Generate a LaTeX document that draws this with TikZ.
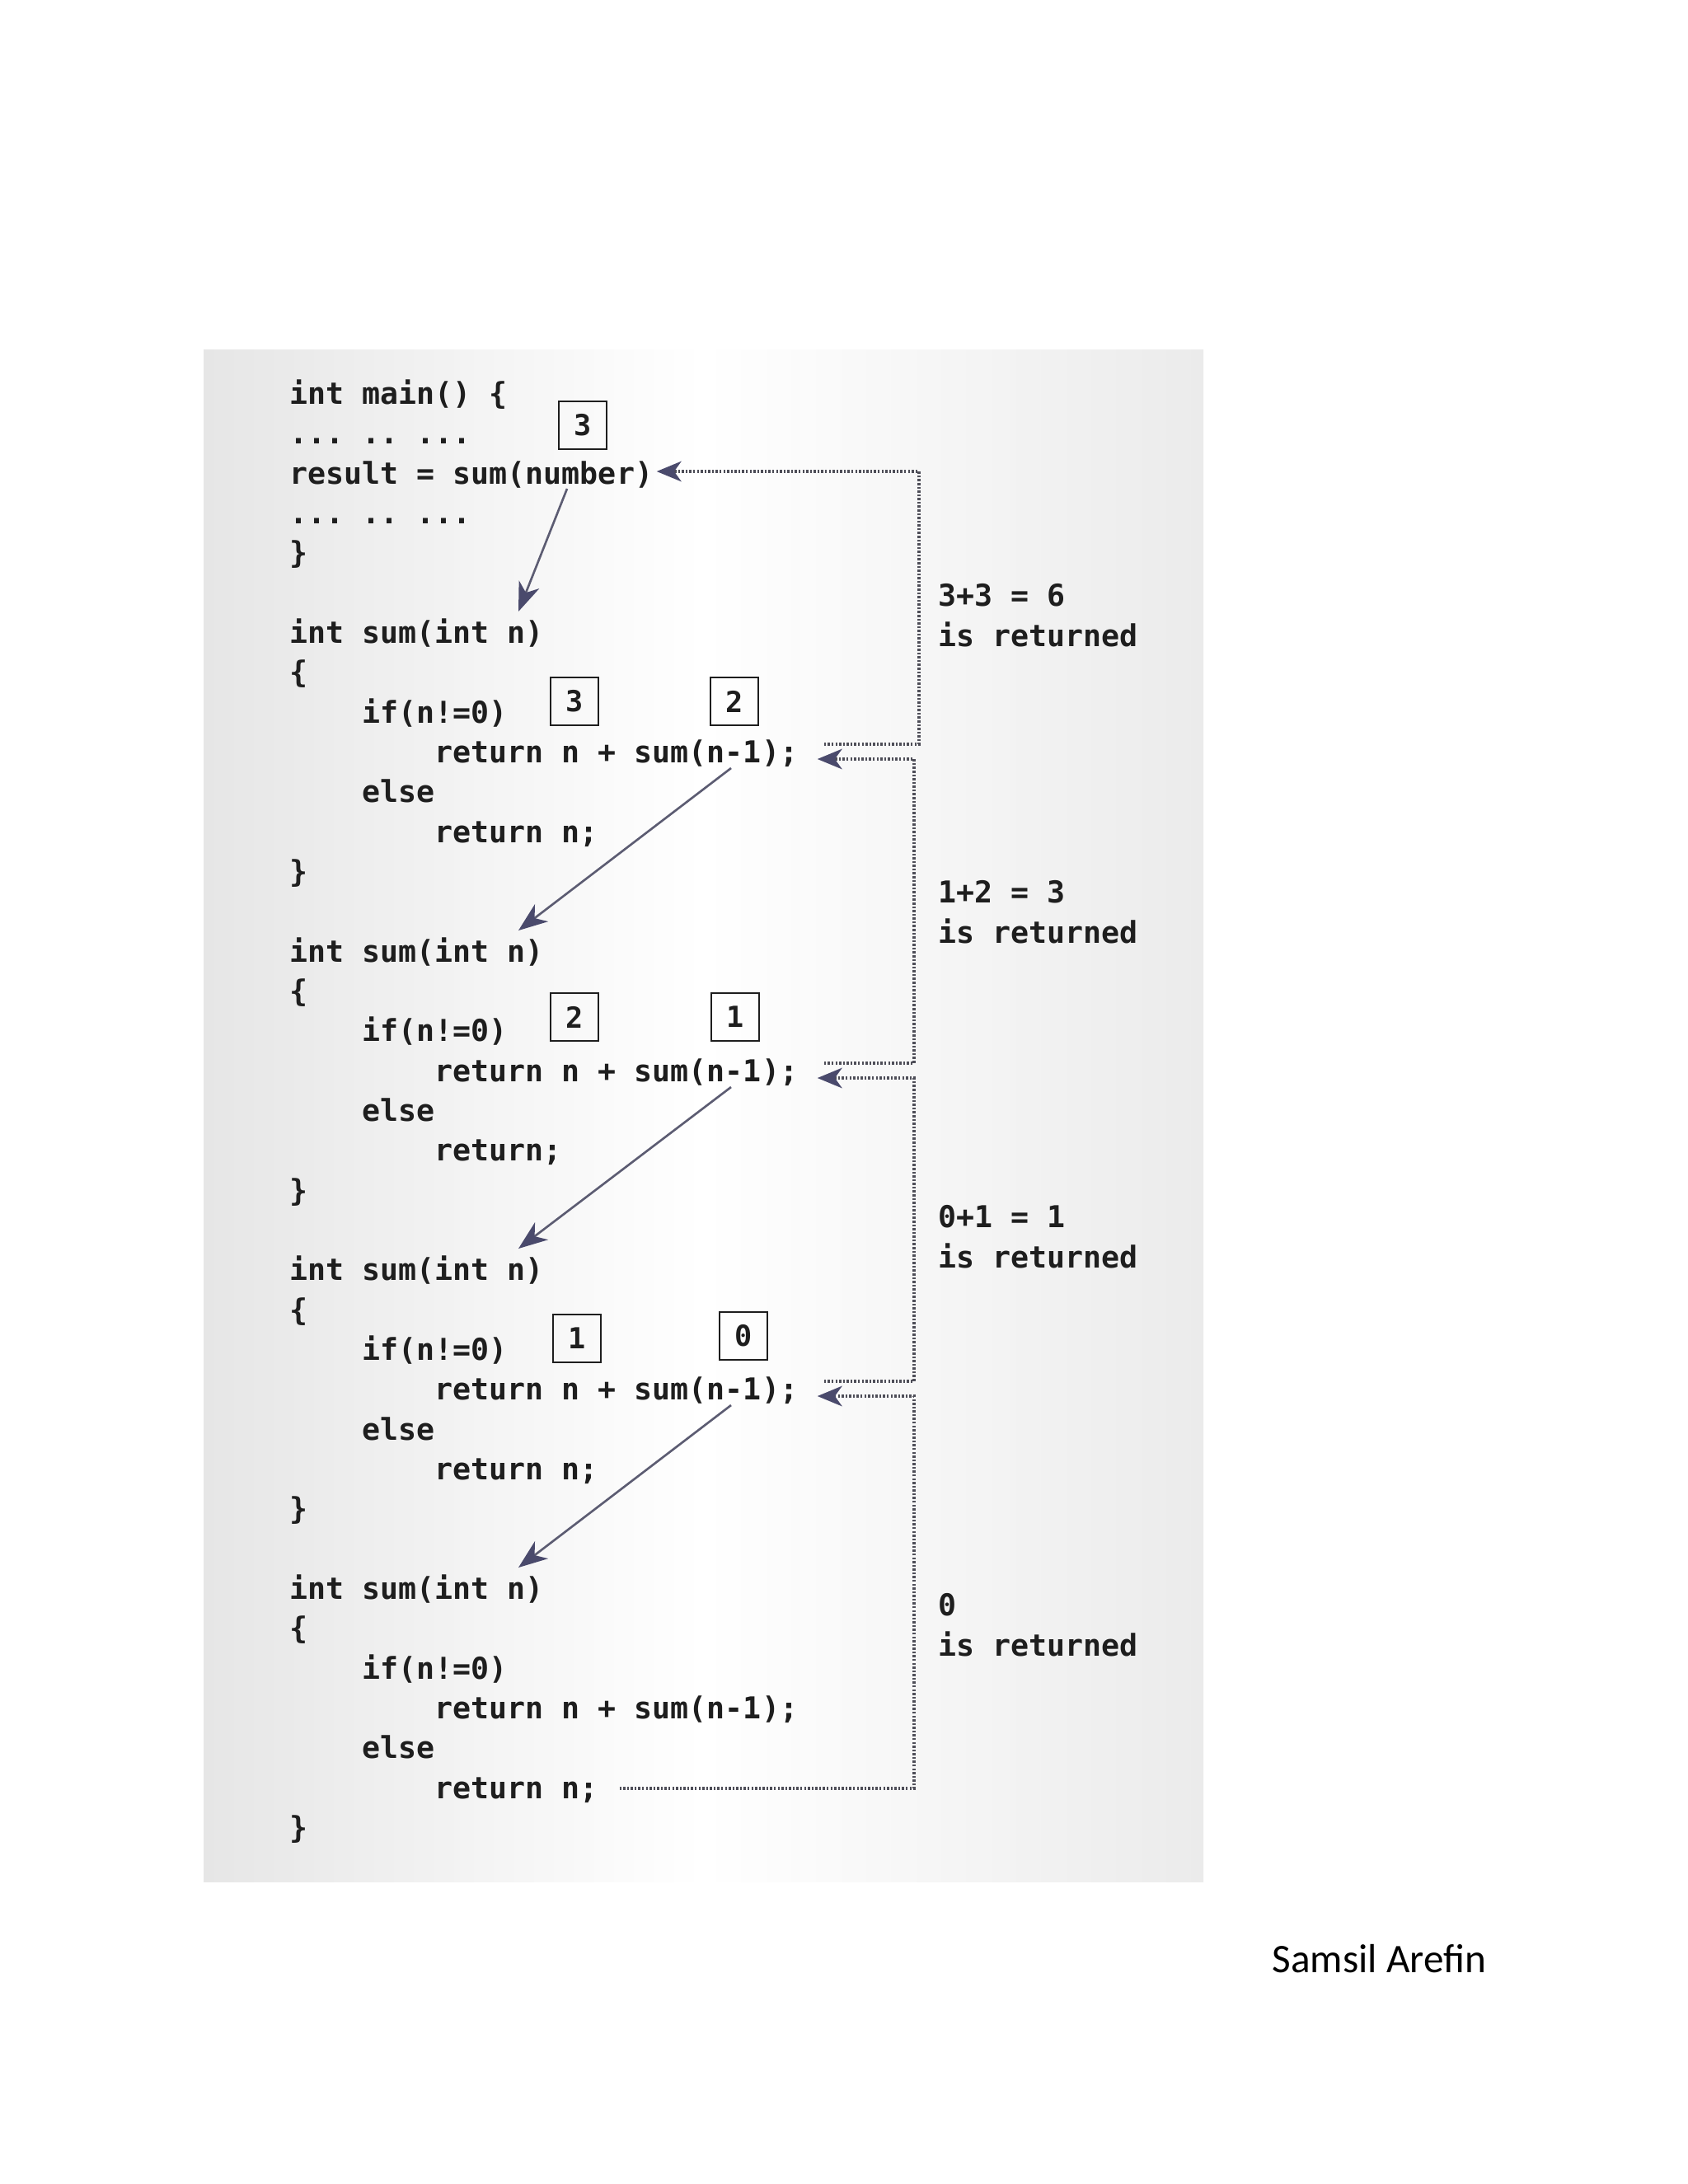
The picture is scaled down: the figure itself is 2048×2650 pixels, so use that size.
\documentclass[tikz,border=0pt]{standalone}
\usepackage{xcolor}
\usepackage{fontspec}
\usepackage{tikz}
\usetikzlibrary{arrows.meta, calc}
\setmonofont{DejaVu Sans Mono}
\newfontfamily\signfont{Carlito}
\definecolor{CodeInk}{HTML}{1E1E1E}
\definecolor{CallLine}{HTML}{5C5C72}
\definecolor{CallSlate}{HTML}{4A4A6C}
\definecolor{ReturnGray}{HTML}{4E4E58}
\definecolor{PanelGray}{HTML}{E6E6E6}
\definecolor{PanelEdge}{HTML}{EBEBEB}

\begin{document}
\begin{tikzpicture}[
  x=0.01cm, y=-0.01cm,
  code/.style={anchor=base west, inner sep=0pt, text=CodeInk,
    font=\fontsize{10.4}{13.7}\selectfont\ttfamily\bfseries},
  note/.style={code, align=left},
  val/.style={rectangle, draw=CodeInk, line width=0.75pt, minimum size=0.58cm,
    inner sep=0pt, text=CodeInk, font=\fontsize{10}{12}\selectfont\ttfamily\bfseries},
  sign/.style={anchor=base west, inner sep=0pt, font=\signfont\fontsize{14}{17}\selectfont},
  call/.style={draw=CallLine, line width=0.75pt,
    -{Stealth[length=10pt, width=7.5pt, inset=3pt, color=CallSlate]}},
  back/.style={draw=ReturnGray, line width=0.9pt, dash pattern=on 0.7pt off 0.6pt,
    -{Stealth[length=8.5pt, width=7pt, inset=2.5pt, color=CallSlate]}}
]
\fill[white] (0,0) rectangle (2048,2650);
\useasboundingbox (0,0) rectangle (2048,2650);
\shade[left color=PanelGray, right color=PanelEdge, middle color=white] (247,424) rectangle (1460,2283);

\node[code] (main)    at (351,490)  {int main() \{};
\node[code] (dotsA)   at (351,538)  {... .. ...};
\node[code] (call0)   at (351,587)  {result = sum(number)};
\node[code] (dotsB)   at (351,635)  {... .. ...};
\node[code] (endmain) at (351,683)  {\}};

\node[code] (head1) at (351,780)  {int sum(int n)};
\node[code] (open1) at (351,828)  {\{};
\node[code] (if1)   at (439,877)  {if(n!=0)};
\node[code] (rec1)  at (527,925)  {return n + sum(n-1);};
\node[code] (else1) at (439,973)  {else};
\node[code] (base1) at (527,1022) {return n;};
\node[code] (end1)  at (351,1070) {\}};

\node[code] (head2) at (351,1167) {int sum(int n)};
\node[code] (open2) at (351,1215) {\{};
\node[code] (if2)   at (439,1263) {if(n!=0)};
\node[code] (rec2)  at (527,1312) {return n + sum(n-1);};
\node[code] (else2) at (439,1360) {else};
\node[code] (base2) at (527,1408) {return;};
\node[code] (end2)  at (351,1457) {\}};

\node[code] (head3) at (351,1553) {int sum(int n)};
\node[code] (open3) at (351,1602) {\{};
\node[code] (if3)   at (439,1650) {if(n!=0)};
\node[code] (rec3)  at (527,1698) {return n + sum(n-1);};
\node[code] (else3) at (439,1747) {else};
\node[code] (base3) at (527,1795) {return n;};
\node[code] (end3)  at (351,1843) {\}};

\node[code] (head4) at (351,1940) {int sum(int n)};
\node[code] (open4) at (351,1988) {\{};
\node[code] (if4)   at (439,2037) {if(n!=0)};
\node[code] (rec4)  at (527,2085) {return n + sum(n-1);};
\node[code] (else4) at (439,2133) {else};
\node[code] (base4) at (527,2182) {return n;};
\node[code] (end4)  at (351,2230) {\}};

\node[val] (num0) at (707,516)  {3};
\node[val] (cur1) at (697,851)  {3};
\node[val] (nxt1) at (891,851)  {2};
\node[val] (cur2) at (697,1234) {2};
\node[val] (nxt2) at (892,1234) {1};
\node[val] (cur3) at (700,1624) {1};
\node[val] (nxt3) at (902,1621) {0};

\node[note] (sum6) at (1138,784)  {3+3 = 6\\is returned};
\node[note] (sum3) at (1138,1144) {1+2 = 3\\is returned};
\node[note] (sum1) at (1138,1538) {0+1 = 1\\is returned};
\node[note] (sum0) at (1138,2009) {0\\is returned};

\node[sign] (author) at (1543,2393) {Samsil Arefin};

\coordinate (numout) at ($(call0.base west)+(337,6)$);
\coordinate (out1) at ($(rec1.base west)+(360,7)$);
\coordinate (out2) at ($(rec2.base west)+(360,7)$);
\coordinate (out3) at ($(rec3.base west)+(360,7)$);
\coordinate (in1) at ($(head1.base west)+(278,-38)$);
\coordinate (in2) at ($(head2.base west)+(278,-38)$);
\coordinate (in3) at ($(head3.base west)+(278,-38)$);
\coordinate (in4) at ($(head4.base west)+(278,-38)$);

\draw[call] (numout) -- (in1);
\draw[call] (out1) -- (in2);
\draw[call] (out2) -- (in3);
\draw[call] (out3) -- (in4);

\coordinate (resend) at ($(call0.base east)+(4,-15)$);
\coordinate (up1) at ($(rec1.base east)+(31,-22)$);
\coordinate (up2) at ($(rec2.base east)+(31,-22)$);
\coordinate (up3) at ($(rec3.base east)+(31,-22)$);
\coordinate (lo1) at ($(rec1.base east)+(23,-4)$);
\coordinate (lo2) at ($(rec2.base east)+(23,-4)$);
\coordinate (lo3) at ($(rec3.base east)+(23,-4)$);
\coordinate (leave4) at ($(base4.base east)+(25,-12)$);
\coordinate (toprail) at (1115,0);
\coordinate (rail) at (1109,0);

\draw[back] (up1) -| (resend -| toprail) -- (resend);
\draw[back] (up2) -| (lo1 -| rail) -- (lo1);
\draw[back] (up3) -| (lo2 -| rail) -- (lo2);
\draw[back] (leave4) -| (lo3 -| rail) -- (lo3);
\end{tikzpicture}
\end{document}
